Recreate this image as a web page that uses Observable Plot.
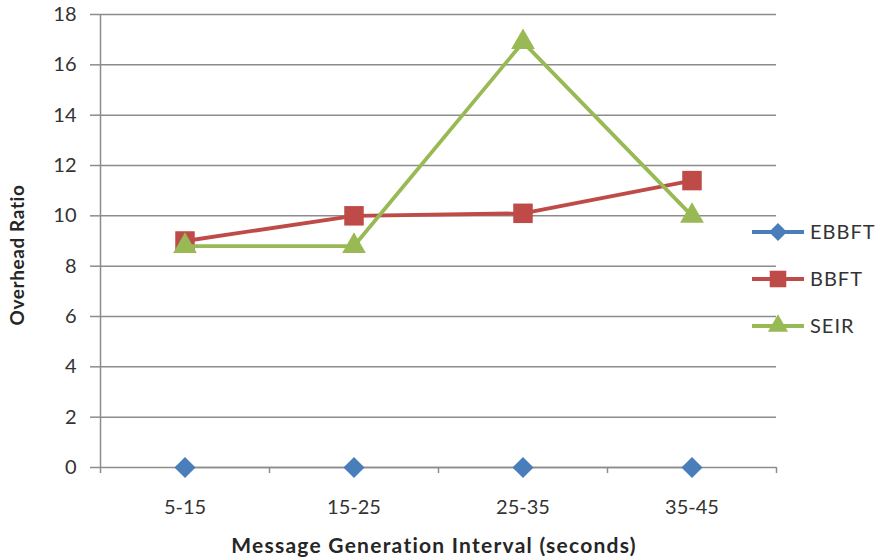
<!DOCTYPE html>
<html><head><meta charset="utf-8">
<script src="https://cdn.jsdelivr.net/npm/d3@7"></script>
<script src="https://cdn.jsdelivr.net/npm/@observablehq/plot@0.6"></script>
<style>body{margin:0;background:#fff;font-family:Lato,"Open Sans",sans-serif}</style>
</head><body><div id="chart"></div>
<script>
const categories = ["5-15", "15-25", "25-35", "35-45"];
const seriesNames = ["EBBFT", "BBFT", "SEIR"];
const ebbft = [0, 0, 0, 0];
const bbft = [9.0, 10.0, 10.1, 11.4];
const seir = [8.8, 8.8, 16.9, 10.0];
const yTicks = [0, 2, 4, 6, 8, 10, 12, 14, 16, 18];
const colors = ["#4A7EBB", "#BE4B48", "#98B954"];
const symbols = ["diamond2", "square", "triangle"];
const markerR = [9.5, 11, 8.8];
const xTitle = "Message Generation Interval (seconds)";
const yTitle = "Overhead Ratio";

const values = [ebbft, bbft, seir];
const rows = [];
seriesNames.forEach((s, k) => values[k].forEach((v, i) => rows.push({series: s, k, i, value: v})));
const boundaries = d3.range(categories.length + 1).map(i => i - 0.5);

const W = 877, H = 559;
const gray = "#8c8c8c";
const marks = [
  Plot.gridY(yTicks, {stroke: gray, strokeOpacity: 1, strokeWidth: 1.5}),
  Plot.axisY(yTicks, {tickSize: 10, tickPadding: 14, label: null, stroke: gray, strokeWidth: 1.5, fill: "#333", fontSize: 20, letterSpacing: 0.6}),
  Plot.ruleX([-0.5], {stroke: gray, strokeWidth: 1.5}),
  Plot.axisX(boundaries, {tickSize: 6, tickFormat: () => "", label: null, stroke: gray, strokeWidth: 1.5}),
  Plot.axisX([0, 1, 2, 3], {tickSize: 0, tickPadding: 32, tickFormat: i => categories[i], label: null, fill: "#333", fontSize: 20, letterSpacing: 0.6})
];
seriesNames.forEach((s, k) => {
  const d = rows.filter(r => r.k === k);
  // the zero series line is hidden under the category axis in the reference
  if (k > 0) marks.push(Plot.line(d, {x: "i", y: "value", stroke: colors[k], strokeWidth: 3.8}));
  else marks.push(Plot.line(d, {x: "i", y: "value", stroke: gray, strokeWidth: 1.5}));
  marks.push(Plot.dot(d, {x: "i", y: "value", fill: colors[k], symbol: symbols[k], r: markerR[k], stroke: "none"}));
});

const chart = Plot.plot({
  width: W, height: H,
  marginLeft: 100, marginRight: 101, marginTop: 14, marginBottom: 92,
  style: {fontFamily: "Lato, 'Open Sans', sans-serif", fontSize: "20px", background: "#fff", overflow: "visible"},
  x: {type: "linear", domain: [-0.5, 3.5], axis: null},
  y: {domain: [0, 18], axis: null},
  marks
});

const svg = d3.select(chart);
svg.append("text").attr("x", 434).attr("y", 553).attr("text-anchor", "middle")
  .attr("font-weight", "bold").attr("font-size", 21).attr("letter-spacing", 1.25).attr("fill", "#262626").text(xTitle);
svg.append("text").attr("transform", "translate(24,255) rotate(-90)").attr("text-anchor", "middle")
  .attr("font-weight", "bold").attr("font-size", 19).attr("letter-spacing", 0.6).attr("fill", "#262626").text(yTitle);
const legendY = [232, 279, 326];
seriesNames.forEach((s, k) => {
  const g = svg.append("g").attr("transform", `translate(0,${legendY[k]})`);
  g.append("line").attr("x1", 752).attr("x2", 804).attr("stroke", colors[k]).attr("stroke-width", 3.8);
  const sym = {diamond2: d3.symbolDiamond2, square: d3.symbolSquare, triangle: d3.symbolTriangle}[symbols[k]];
  const rr = markerR[k] * 0.85;
  g.append("path").attr("transform", "translate(778,0)").attr("fill", colors[k])
    .attr("d", d3.symbol(sym, Math.PI * rr * rr)());
  g.append("text").attr("x", 810).attr("dy", "0.36em").attr("text-anchor", "start")
    .attr("font-size", 20).attr("letter-spacing", 1).attr("fill", "#333").text(s);
});
document.getElementById("chart").appendChild(chart);
</script></body></html>
